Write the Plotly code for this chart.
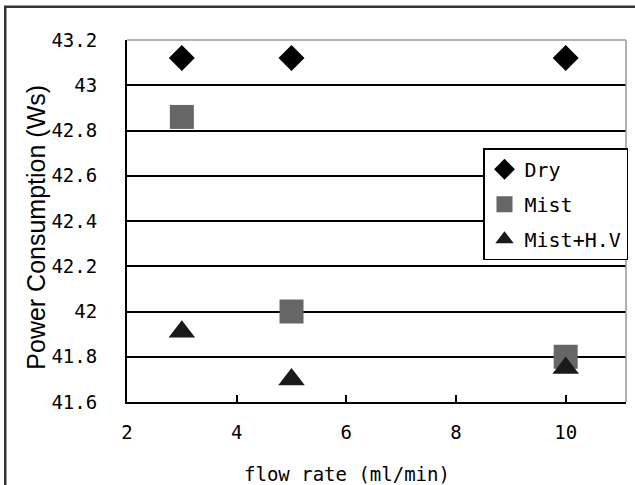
import plotly.graph_objects as go

flow = [3, 5, 10]
dry = [43.12, 43.12, 43.12]
mist = [42.86, 42.00, 41.80]
mist_hv = [41.91, 41.70, 41.75]

x_ticks = [2, 4, 6, 8, 10]
y_ticks = [41.6, 41.8, 42.0, 42.2, 42.4, 42.6, 42.8, 43.0, 43.2]
y_labels = ["41.6", "41.8", "42", "42.2", "42.4", "42.6", "42.8", "43", "43.2"]
x_title = "flow rate (ml/min)"
y_title = "Power Consumption (Ws)"

mono = "DejaVu Sans Mono, monospace"
sans = "Liberation Sans, Arial, sans-serif"

fig = go.Figure()
fig.add_trace(go.Scatter(x=flow, y=dry, mode="markers", name="Dry", legendgroup="a",
                         marker=dict(symbol="diamond", size=20, color="#000000")))
fig.add_trace(go.Scatter(x=flow, y=mist, mode="markers", name="Mist", legendgroup="b",
                         marker=dict(symbol="square", size=24, color="#666666")))
fig.add_trace(go.Scatter(x=flow, y=mist_hv, mode="markers", name="Mist+H.V", legendgroup="c",
                         marker=dict(symbol="triangle-up", size=23, color="#1a1a1a")))

fig.update_layout(
    width=635, height=485,
    margin=dict(l=127, r=8, t=40, b=83),
    paper_bgcolor="white", plot_bgcolor="white",
    font=dict(family=mono, color="#000000", size=19),
    showlegend=True,
    legend=dict(x=0.712, y=0.701, xanchor="left", yanchor="top",
                bordercolor="#000000", borderwidth=1.5, bgcolor="white",
                font=dict(size=20, family=mono), tracegroupgap=6,
                traceorder="grouped", itemwidth=30),
    xaxis=dict(range=[2, 11.1], tickvals=x_ticks, ticktext=[str(v) for v in x_ticks],
               showgrid=False, zeroline=False, showline=True, linecolor="#000000",
               linewidth=2, ticks="inside", ticklen=7, tickwidth=1.5, tickcolor="#000000",
               automargin=False, ticklabelstandoff=12,
               tickfont=dict(size=19, family=mono)),
    yaxis=dict(range=[41.6, 43.2], tickvals=y_ticks, ticktext=y_labels,
               showgrid=True, gridcolor="#000000", gridwidth=1.5, zeroline=False,
               showline=True, linecolor="#000000", linewidth=2, ticks="",
               automargin=False, ticklabelstandoff=24,
               tickfont=dict(size=19, family=mono)),
)

fig.add_annotation(text=x_title, xref="paper", yref="paper", x=0.44, y=-0.199,
                   xanchor="center", yanchor="middle", showarrow=False,
                   font=dict(size=19, family=mono, color="#000000"))
fig.add_annotation(text=y_title, xref="paper", yref="paper", x=-0.184, y=0.482,
                   xanchor="center", yanchor="middle", showarrow=False, textangle=-90,
                   font=dict(size=25, family=sans, color="#000000"))

# plot-area top/right border (gray)
fig.add_shape(type="line", xref="paper", yref="paper", x0=0, x1=1, y0=1, y1=1,
              line=dict(color="#999999", width=1.5))
fig.add_shape(type="line", xref="paper", yref="paper", x0=1, x1=1, y0=0, y1=1,
              line=dict(color="#999999", width=1.5))
# outer chart frame (top and left edges visible)
fig.add_shape(type="path", xref="paper", yref="paper",
              path="M -0.244,-0.3 L -0.244,1.092 L 1.1,1.092",
              line=dict(color="#333333", width=2.5))

fig.write_html("out.html", config={"displayModeBar": False},
               post_script="document.body.style.margin='0';")
